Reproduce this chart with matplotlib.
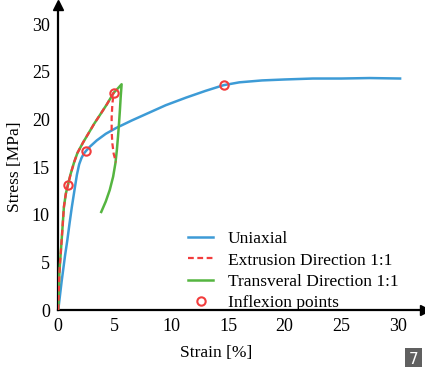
import matplotlib.pyplot as plt

plt.rcParams['font.family'] = ['Liberation Serif', 'DejaVu Serif']

# strain [%] / stress [MPa]
uni_strain = [0.0, 0.1, 0.2, 0.3, 0.4, 0.6, 0.8, 1.0, 1.2, 1.45, 1.65, 1.85, 2.05, 2.25,
              2.45, 2.8, 3.4, 4.2, 5.1, 6.5, 8.0, 9.5, 11.3, 13.0, 14.6, 16.0, 18.0,
              20.0, 22.5, 25.0, 27.5, 30.2]
uni_stress = [0.0, 1.0, 2.0, 3.0, 3.9, 5.7, 7.3, 9.1, 10.8, 12.7, 14.2, 15.3, 15.95, 16.4,
              16.7, 17.15, 17.8, 18.5, 19.1, 19.9, 20.7, 21.5, 22.3, 23.0, 23.6, 23.9, 24.1,
              24.2, 24.3, 24.3, 24.35, 24.3]

ext_strain = [0.0, 0.05, 0.1, 0.15, 0.3, 0.5, 0.67, 0.85, 1.1, 1.4, 1.7, 2.2, 2.7, 3.2,
              3.7, 4.3, 4.9, 4.78, 4.72, 4.72, 4.78, 4.9, 5.1]
ext_stress = [0.0, 2.0, 3.8, 4.8, 7.3, 10.8, 12.2, 13.1, 14.3, 15.5, 16.5, 17.6, 18.6, 19.6,
              20.5, 21.6, 22.8, 21.6, 20.2, 18.8, 17.5, 16.4, 15.5]

tra_strain = [0.0, 0.05, 0.1, 0.15, 0.3, 0.5, 0.67, 0.85, 1.1, 1.4, 1.7, 2.2, 2.7, 3.2,
              3.7, 4.3, 4.9, 5.3, 5.6, 5.52, 5.45, 5.37, 5.28, 5.18, 5.05, 4.85, 4.55,
              4.2, 3.8]
tra_stress = [0.0, 2.0, 3.8, 4.8, 7.3, 10.8, 12.2, 13.1, 14.3, 15.5, 16.5, 17.6, 18.6, 19.6,
              20.5, 21.6, 22.8, 23.3, 23.7, 22.4, 21.0, 19.6, 18.2, 16.8, 15.4, 14.0, 12.6,
              11.4, 10.3]

infl_strain = [0.85, 2.45, 4.9, 14.6]
infl_stress = [13.1, 16.7, 22.8, 23.6]

x_ticks = [0, 5, 10, 15, 20, 25, 30]
y_ticks = [0, 5, 10, 15, 20, 25, 30]

fig = plt.figure(figsize=(4.25, 3.67), dpi=100)
ax = fig.add_axes([0.137, 0.155, 0.863, 0.831])

ax.plot(uni_strain, uni_stress, color='#3d9bd6', lw=1.8, label='Uniaxial')
ax.plot(ext_strain, ext_stress, color='#f23d3d', lw=1.6, ls=(0, (2.6, 1.6)),
        label='Extrusion Direction 1:1', zorder=4)
ax.plot(tra_strain, tra_stress, color='#55b540', lw=1.8,
        label='Transveral Direction 1:1', zorder=3)
ax.plot(infl_strain, infl_stress, 'o', mfc='none', mec='#f23d3d', mew=1.5,
        ms=6, ls='none', label='Inflexion points', zorder=5)

ax.set_xlim(0, 32.4)
ax.set_ylim(0, 32.0)
ax.set_xticks(x_ticks)
ax.set_yticks(y_ticks)
ax.tick_params(length=0, labelsize=13, pad=6)

for s in ['top', 'right']:
    ax.spines[s].set_visible(False)
for s in ['left', 'bottom']:
    ax.spines[s].set_linewidth(1.6)
ax.plot(1, 0, '>k', ms=7, transform=ax.transAxes, clip_on=False)
ax.plot(0, 1, '^k', ms=7, transform=ax.transAxes, clip_on=False)

ax.set_xlabel('Strain [%]', fontsize=12.5)
ax.set_ylabel('Stress [MPa]', fontsize=12.5)
ax.xaxis.set_label_coords(0.43, -0.115)
ax.yaxis.set_label_coords(-0.095, 0.469)

ax.legend(loc='upper left', bbox_to_anchor=(188 / 425, 1 - 231 / 367),
          bbox_transform=fig.transFigure, frameon=False, fontsize=12.5,
          handlelength=1.45, handletextpad=0.85, labelspacing=0.3, borderpad=0,
          borderaxespad=0)

fig.text(0.985, 0.0, '7', color='white', fontsize=11, ha='right', va='bottom',
         family='DejaVu Sans',
         bbox=dict(boxstyle='square,pad=0.25', fc='#606060', ec='none'))

fig.savefig('out.png', dpi=100)
